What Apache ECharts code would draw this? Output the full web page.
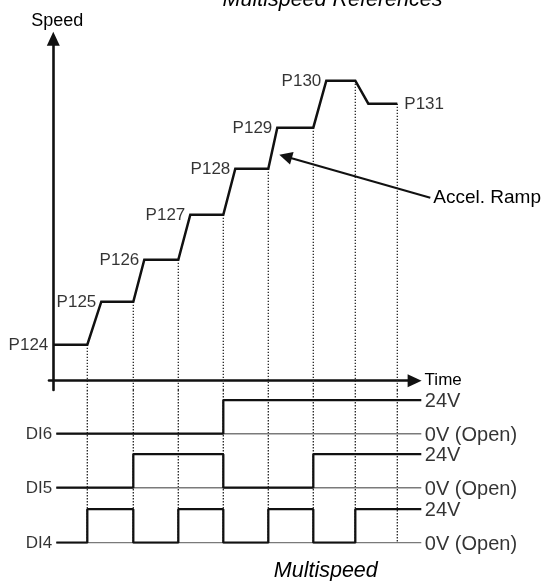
<!DOCTYPE html>
<html><head><meta charset="utf-8">
<script src="https://cdn.jsdelivr.net/npm/echarts@6/dist/echarts.min.js"></script>
<style>html,body{margin:0;padding:0;background:#fff}#c{width:544px;height:581px}</style>
</head><body><div id="c"></div>
<script>
// ---------------- data ----------------
const refNames = ['P124', 'P125', 'P126', 'P127', 'P128', 'P129', 'P130', 'P131'];
// speed profile (time and speed in arbitrary units)
const speedTime  = [0, 34, 48, 80, 91, 125, 137, 170, 182, 215, 224, 260, 273, 302, 315, 344];
const speedValue = [36, 36, 79, 79, 121, 121, 166, 166, 212, 212, 253, 253, 300, 300, 277, 277];
// instants at which the inputs change / each plateau ends (dotted guides)
const switchTimes = [34, 80, 125, 170, 215, 260, 302, 344];
// digital input state while each reference P124..P131 is selected
const di4 = [0, 1, 0, 1, 0, 1, 0, 1];
const di5 = [0, 0, 1, 1, 0, 0, 1, 1];
const di6 = [0, 0, 0, 0, 1, 1, 1, 1];
const diNames = ['DI4', 'DI5', 'DI6'];
const levelNames = ['0V (Open)', '24V'];
const signalStart = 3, signalEnd = 368;
const annotation = { text: 'Accel. Ramp', tip: [226, 226], tail: [377, 183] };

// ---------------- layout / style ----------------
const FONT = '"Liberation Sans", Arial, Helvetica, sans-serif';
const INK = '#000';
const ORIGIN_X = 53.3, ORIGIN_Y = 380.7;
const X0 = { min: -4.3, max: 361.3 }, Y0 = { min: -9.3, max: 341.9 };
const Y1 = { min: 0, max: 152.7 };
const CH_BASE = [0, 55, 109], CH_AMP = 33.5;

const grids = [
  { left: ORIGIN_X + X0.min, top: ORIGIN_Y - Y0.max, width: X0.max - X0.min, height: Y0.max - Y0.min, outerBoundsMode: 'none', containLabel: false },
  { left: ORIGIN_X, top: ORIGIN_Y - Y0.min, width: signalEnd, height: Y1.max - Y1.min, outerBoundsMode: 'none', containLabel: false }
];

const hiddenParts = { axisTick: { show: false }, axisLabel: { show: false }, splitLine: { show: false } };
const axisLineStyle = { show: true, onZero: true, symbol: ['none', 'triangle'], symbolSize: [13, 14], lineStyle: { color: '#111', width: 2.6 } };

const xAxes = [
  Object.assign({ type: 'value', gridIndex: 0, min: X0.min, max: X0.max, axisLine: axisLineStyle,
    name: 'Time', nameLocation: 'end', nameGap: 10, nameMoveOverlap: false,
    nameTextStyle: { fontFamily: FONT, fontSize: 17, color: INK } }, hiddenParts),
  Object.assign({ type: 'value', gridIndex: 1, min: 0, max: signalEnd, show: false }, hiddenParts)
];
const yAxes = [
  Object.assign({ type: 'value', gridIndex: 0, min: Y0.min, max: Y0.max, axisLine: axisLineStyle,
    name: 'Speed', nameLocation: 'end', nameGap: 9, nameMoveOverlap: false,
    nameTextStyle: { fontFamily: FONT, fontSize: 18, color: INK, padding: [0, 0, 0, 8] } }, hiddenParts),
  Object.assign({ type: 'value', gridIndex: 1, min: Y1.min, max: Y1.max, show: false }, hiddenParts)
];

const series = [];
const dotted = { color: '#222', width: 1.3, type: [1.4, 1.6] };

// dotted guides
switchTimes.forEach(function (t, i) {
  const level = speedValue[2 * i];
  series.push({ type: 'line', xAxisIndex: 0, yAxisIndex: 0, data: [[t, level], [t, Y0.min]],
    symbol: 'none', silent: true, z: 1, lineStyle: dotted });
  series.push({ type: 'line', xAxisIndex: 1, yAxisIndex: 1, data: [[t, Y1.max], [t, Y1.min]],
    symbol: 'none', silent: true, z: 1, lineStyle: dotted });
});

// speed curve
series.push({ type: 'line', xAxisIndex: 0, yAxisIndex: 0,
  data: speedTime.map(function (t, i) { return [t, speedValue[i]]; }),
  symbol: 'none', silent: true, z: 4, lineStyle: { color: '#111', width: 2.5, join: 'miter' } });

// reference labels
const refLabelData = refNames.map(function (n, i) {
  const last = i === refNames.length - 1;
  const k = last ? 2 * i + 1 : 2 * i;
  return { name: n, value: [speedTime[k], speedValue[k]],
    label: { position: last ? 'right' : 'left', distance: last ? 7 : 5 } };
});
series.push({ type: 'scatter', xAxisIndex: 0, yAxisIndex: 0, data: refLabelData, symbolSize: 0,
  itemStyle: { color: 'rgba(0,0,0,0)' }, silent: true, z: 5,
  label: { show: true, formatter: '{b}', offset: [0, 1], fontFamily: FONT, fontSize: 17, color: INK } });

// digital signals
const bounds = [signalStart].concat(switchTimes.slice(0, 7), [signalEnd]);
[di4, di5, di6].forEach(function (states, c) {
  const base = CH_BASE[c];
  series.push({ type: 'line', xAxisIndex: 1, yAxisIndex: 1, data: [[signalStart, base], [signalEnd, base]],
    symbol: 'none', silent: true, z: 2, lineStyle: { color: '#7a7a7a', width: 1.4 } });
  const pts = states.map(function (s, i) { return [bounds[i], base + s * CH_AMP]; });
  pts.push([signalEnd, base + states[states.length - 1] * CH_AMP]);
  series.push({ type: 'line', xAxisIndex: 1, yAxisIndex: 1, data: pts, step: 'end',
    symbol: 'none', silent: true, z: 3, lineStyle: { color: '#111', width: 2.3 } });
});

// channel names and level labels
series.push({ type: 'scatter', xAxisIndex: 1, yAxisIndex: 1, symbolSize: 0, silent: true, z: 5,
  itemStyle: { color: 'rgba(0,0,0,0)' },
  data: diNames.map(function (n, c) { return { name: n, value: [signalStart, CH_BASE[c]] }; }),
  label: { show: true, formatter: '{b}', position: 'left', distance: 4, offset: [0, 0.5], fontFamily: FONT, fontSize: 17, color: INK } });
const lvlData = [];
CH_BASE.forEach(function (b) {
  lvlData.push({ name: levelNames[0], value: [signalEnd, b] });
  lvlData.push({ name: levelNames[1], value: [signalEnd, b + CH_AMP] });
});
series.push({ type: 'scatter', xAxisIndex: 1, yAxisIndex: 1, symbolSize: 0, silent: true, z: 5,
  itemStyle: { color: 'rgba(0,0,0,0)' }, data: lvlData,
  label: { show: true, formatter: '{b}', position: 'right', distance: 3.5, offset: [0, 1.5], fontFamily: FONT, fontSize: 20, color: INK } });

const chart = echarts.init(document.getElementById('c'), null, { renderer: 'canvas' });
const baseGraphic = [
  { id: 'title', type: 'text', x: 332.5, y: -0.2, silent: true,
    style: { text: 'Multispeed References', fontFamily: FONT, fontSize: 21.5, fontStyle: 'italic', fill: INK,
      align: 'center', verticalAlign: 'middle', textAlign: 'center', textVerticalAlign: 'middle' } },
  { id: 'foot', type: 'text', x: 325.8, y: 570.8, silent: true,
    style: { text: 'Multispeed', fontFamily: FONT, fontSize: 21.5, fontStyle: 'italic', fill: INK,
      align: 'center', verticalAlign: 'middle', textAlign: 'center', textVerticalAlign: 'middle' } }
];
chart.setOption({
  animation: false,
  backgroundColor: '#fff',
  grid: grids, xAxis: xAxes, yAxis: yAxes, series: series,
  graphic: baseGraphic
});

// annotation arrow anchored on data coordinates
const tip = chart.convertToPixel({ gridIndex: 0 }, annotation.tip);
const tail = chart.convertToPixel({ gridIndex: 0 }, annotation.tail);
const dx = tip[0] - tail[0], dy = tip[1] - tail[1];
const len = Math.sqrt(dx * dx + dy * dy);
const ux = dx / len, uy = dy / len;
const HL = 13, HW = 6.5;
const bx = tip[0] - ux * HL, by = tip[1] - uy * HL;
chart.setOption({
  graphic: baseGraphic.concat([
    { id: 'annLine', type: 'line', silent: true, z: 10,
      shape: { x1: tail[0], y1: tail[1], x2: bx + ux * 2, y2: by + uy * 2 },
      style: { stroke: '#111', lineWidth: 2 } },
    { id: 'annHead', type: 'polygon', silent: true, z: 10,
      shape: { points: [[tip[0], tip[1]], [bx - uy * HW, by + ux * HW], [bx + uy * HW, by - ux * HW]] },
      style: { fill: '#111' } },
    { id: 'annText', type: 'text', x: tail[0] + 3, y: tail[1] + 0.5, silent: true, z: 10,
      style: { text: annotation.text, fontFamily: FONT, fontSize: 19, fill: INK,
        align: 'left', verticalAlign: 'middle', textAlign: 'left', textVerticalAlign: 'middle' } }
  ])
});
</script></body></html>
